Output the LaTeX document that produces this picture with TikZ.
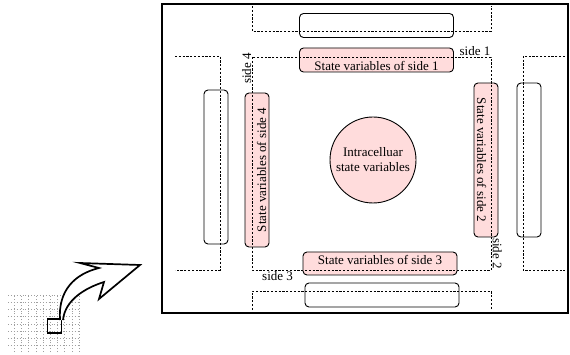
\documentclass[tikz,border=0pt]{standalone}
\usepackage{fontspec}
\setmainfont{Liberation Serif}
\usepackage{tikz}
\usepackage{xcolor}
\usetikzlibrary{shapes,arrows,positioning,calc}

\definecolor{cellpink}{RGB}{255,220,220}

\begin{document}
\begin{tikzpicture}[x=1pt, y=-1pt,
    font=\fontsize{13}{15}\selectfont,
    sidebox/.style={draw, line width=0.9pt, rounded corners=4pt, fill=cellpink, minimum width=154pt, minimum height=24pt, inner sep=1pt},
    nbbox/.style={draw, line width=0.9pt, rounded corners=4pt, minimum width=154pt, minimum height=24pt, inner sep=1pt},
    border/.style={dash pattern=on 2.2pt off 1.6pt, line width=0.9pt},
    sidelbl/.style={inner sep=1pt}]
    \useasboundingbox (0,0) rectangle (570,355);
    \draw[line width=2pt] (162,4) rectangle (568,313);

    \node[nbbox] (top) at (376.5,25.5) {};
    \node[nbbox] (bottom) at (382,295) {};
    \node[nbbox, rotate=90] (left) at (216,167) {};
    \node[nbbox, rotate=90] (right) at (529,160) {};

    \node[sidebox, text height=21pt, text depth=0pt] (s1) at (376.5,60) {State variables of side 1};
    \node[sidebox, rotate=-90, text height=18pt, text depth=0pt] (s2) at (486,160) {State variables of side 2};
    \node[sidebox, minimum height=23pt, text height=9pt, text depth=6pt] (s3) at (380,263.5) {State variables of side 3};
    \node[sidebox, rotate=90, text height=18pt, text depth=0pt] (s4) at (257,170) {State variables of side 4};

    \node[circle, draw, line width=0.9pt, fill=cellpink, minimum size=86pt, align=center, inner sep=0pt] (intra) at (373,160) {Intracelluar\\state variables};

    % cell boundary and the neighbour cells
    \draw[border] (252,57) rectangle (491,270);
    \draw[border] (252,6) -- (252,31) -- (491,31) -- (491,6);
    \draw[border] (252,310) -- (252,291) -- (491,291) -- (491,310);
    \draw[border] (175,56) -- (220,56) -- (220,270) -- (175,270);
    \draw[border] (565,56) -- (523,56) -- (523,270) -- (565,270);

    \node[sidelbl, anchor=south east] (l1) at (491.5,57) {side 1};
    \node[sidelbl, anchor=south east, rotate=-90] (l2) at (491.5,270) {side 2};
    \node[sidelbl, anchor=north west] (l3) at (261,270) {side 3};
    \node[sidelbl, anchor=south east, rotate=90] (l4) at (252.5,52) {side 4};

    % tissue grid and the picked cell
    \draw[gray!75, dotted, line width=0.9pt, step=7.2pt] (8,295) grid (80.1,352);
    \node[draw, line width=1.5pt, minimum size=14pt, inner sep=0pt] (pick) at (54.5,326) {};

    \draw[line width=1.7pt, line join=miter, fill=white]
        (60,320) .. controls (58,290) and (75,274) .. (99,268)
        -- (80,263) -- (140,265) -- (99,299) -- (104,282)
        .. controls (85,288) and (65,300) .. (63,320);
\end{tikzpicture}
\end{document}
